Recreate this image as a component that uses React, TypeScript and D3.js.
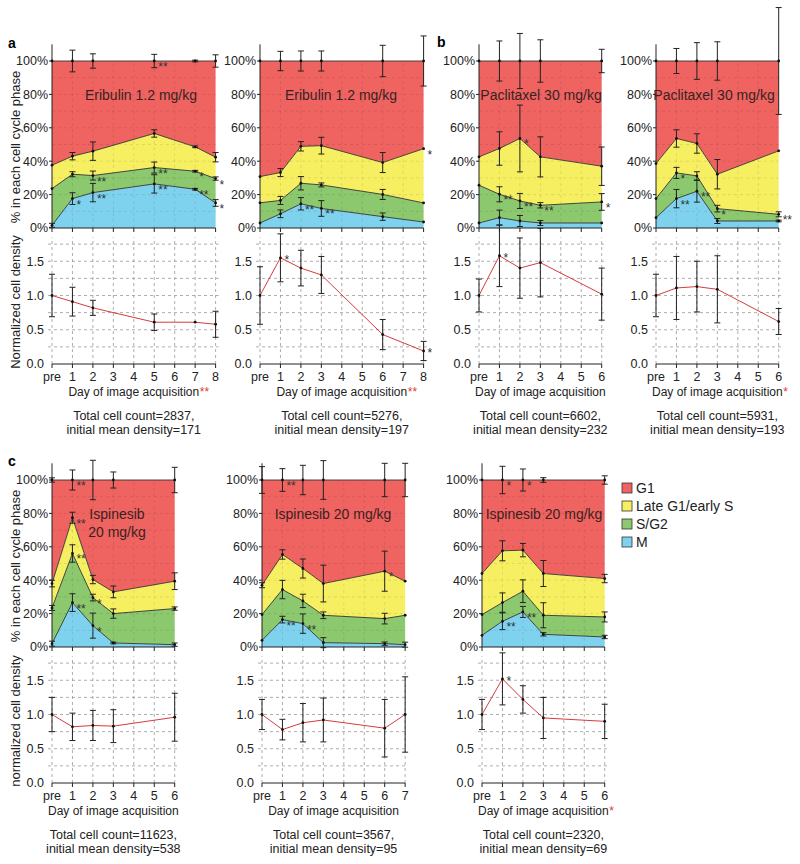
import * as d3 from "d3";

const FONT = "Liberation Sans, Arial, Helvetica, sans-serif";
const RED = "#ef6461";
const YELLOW = "#f7ef62";
const GREEN = "#8cc86e";
const BLUE = "#7fd2ee";
const LINE_RED = "#d63c3c";

const DAY_W = 20.45;
const AREA_H = 167;
const DENS_OFF = 303;
const DENS_UNIT = 68.5;

type Star = [number, string, string];

// ---- a, Eribulin (left) ----
const a1Days = [0, 1, 2, 5, 7, 8];
const a1M = [1.6, 17.6, 21.2, 26.4, 23.2, 15];
const a1Sg2 = [23.6, 32.2, 31.4, 36.2, 34, 29.6];
const a1Late = [37.6, 43, 46, 56.6, 48.6, 42.4];
const a1ETop = [0, 6.5, 4.3, 4, 0.5, 3.7];
const a1ELate = [0, 2.2, 5.5, 2.2, 0.5, 2.8];
const a1ESg2 = [0, 1.5, 2.7, 3.3, 0.5, 1];
const a1EM = [1.2, 3.5, 5.5, 5.5, 0.5, 2];
const a1Stars: Star[] = [[3, "top", "**"], [2, "sg2", "**"], [3, "sg2", "**"], [4, "sg2", "*"], [5, "sg2", "*"],
  [1, "m", "*"], [2, "m", "**"], [3, "m", "**"], [4, "m", "**"], [5, "m", "*"]];
const a1Dens = [1.0, 0.91, 0.82, 0.61, 0.61, 0.58];
const a1DensErr = [0.31, 0.21, 0.11, 0.12, 0.01, 0.19];

// ---- a, Eribulin (right) ----
const a2Days = [0, 1, 2, 3, 6, 8];
const a2M = [3, 8.5, 14.5, 11.7, 6.8, 3.6];
const a2Sg2 = [15.1, 16.5, 26.8, 25.8, 20.1, 15];
const a2Late = [30.8, 33.2, 48.9, 49.3, 39.2, 47.5];
const a2ETop = [0, 5.8, 6, 6, 9.4, 15];
const a2ELate = [0, 2.4, 2.8, 5, 6, 0];
const a2ESg2 = [0, 2.4, 4, 1.2, 3, 0];
const a2EM = [0, 2.3, 3.7, 4.7, 2.2, 0];
const a2Stars: Star[] = [[2, "m", "**"], [3, "m", "**"], [5, "late", "*"]];
const a2Dens = [1.0, 1.55, 1.4, 1.3, 0.43, 0.19];
const a2DensErr = [0.42, 0.35, 0.26, 0.27, 0.22, 0.14];

// ---- b, Paclitaxel (left) ----
const b1Days = [0, 1, 2, 3, 6];
const b1M = [3, 6.2, 4.2, 3, 3];
const b1Sg2 = [25.6, 20.2, 16.2, 13.6, 15.6];
const b1Late = [42.6, 47.6, 53.6, 42.6, 37];
const b1ETop = [0, 12, 16.5, 12.7, 7];
const b1ELate = [0, 10, 20, 12, 11.5];
const b1ESg2 = [0, 4.5, 4.5, 1.6, 5];
const b1EM = [0, 4.5, 3.3, 1.5, 0];
const b1Stars: Star[] = [[2, "late", "*"], [1, "sg2", "**"], [2, "sg2", "**"], [3, "sg2", "**"], [4, "sg2", "*"]];
const b1Dens = [1.0, 1.58, 1.4, 1.48, 1.02];
const b1DensErr = [0.24, 0.45, 0.44, 0.5, 0.38];

// ---- b, Paclitaxel (right) ----
const b2Days = [0, 1, 2, 3, 6];
const b2M = [6.2, 17.6, 22, 4.2, 4.2];
const b2Sg2 = [17.6, 33, 31.2, 11.6, 8.2];
const b2Late = [38.6, 53.6, 50.6, 32.2, 46.2];
const b2ETop = [0, 7.5, 11, 11.5, 32];
const b2ELate = [0, 5.2, 5.8, 8.8, 0];
const b2ESg2 = [0, 3.3, 2.5, 2, 1.5];
const b2EM = [0, 5.5, 6.5, 1.5, 0.5];
const b2Stars: Star[] = [[1, "sg2", "*"], [1, "m", "**"], [2, "m", "**"], [3, "sg2", "*"], [4, "sg2", "**"]];
const b2Dens = [1.0, 1.11, 1.13, 1.09, 0.62];
const b2DensErr = [0.31, 0.46, 0.37, 0.49, 0.19];

// ---- c, Ispinesib ----
const c1Days = [0, 1, 2, 3, 6];
const c1M = [2, 26.6, 12.8, 2.4, 1.4];
const c1Sg2 = [23.4, 56, 29.6, 20, 23];
const c1Late = [38, 77.4, 40.4, 33, 39.4];
const c1ETop = [1.3, 6, 11.8, 4.8, 7.6];
const c1ELate = [2, 3.3, 2.5, 3.5, 5];
const c1ESg2 = [1.5, 5.2, 2, 2.8, 1];
const c1EM = [1.5, 5.3, 7.5, 0.5, 1];
const c1Stars: Star[] = [[1, "top", "**"], [1, "late", "**"], [1, "sg2", "**"], [1, "m", "**"], [2, "sg2", "*"], [2, "m", "*"]];
const c1Dens = [1.0, 0.82, 0.84, 0.83, 0.96];
const c1DensErr = [0.25, 0.2, 0.22, 0.24, 0.35];

const c2Days = [0, 1, 2, 3, 6, 7];
const c2M = [4, 16.4, 14, 2.6, 2, 1.4];
const c2Sg2 = [19.4, 34.4, 27.6, 19, 17, 19];
const c2Late = [37, 55.4, 47, 38, 45.4, 39.4];
const c2ETop = [8, 6.8, 8.8, 11.6, 10, 10];
const c2ELate = [1.5, 2.8, 5.7, 11, 12, 0];
const c2ESg2 = [0, 5.5, 4, 2, 3.2, 0];
const c2EM = [0, 2, 5.8, 3, 1, 1.5];
const c2Stars: Star[] = [[1, "top", "**"], [1, "m", "**"], [2, "m", "**"], [4, "late", "*"]];
const c2Dens = [1.0, 0.78, 0.88, 0.92, 0.8, 1.0];
const c2DensErr = [0.22, 0.15, 0.28, 0.32, 0.42, 0.55];

const c3Days = [0, 1, 2, 3, 6];
const c3M = [7, 15.4, 21, 7.6, 6];
const c3Sg2 = [19.4, 26.6, 33.4, 19, 18];
const c3Late = [44, 57.6, 58, 44, 41];
const c3ETop = [0, 8.2, 6.6, 1.4, 2.5];
const c3ELate = [0, 6, 4, 7.8, 2.5];
const c3ESg2 = [0, 5.8, 6.8, 7.5, 3];
const c3EM = [0, 5, 3.3, 1, 1];
const c3Stars: Star[] = [[1, "top", "*"], [2, "top", "*"], [1, "m", "**"], [2, "m", "**"]];
const c3Dens = [1.0, 1.52, 1.22, 0.95, 0.9];
const c3DensErr = [0.22, 0.38, 0.2, 0.3, 0.25];

const areaTicks = [0, 20, 40, 60, 80, 100];
const densTicks = [0, 0.5, 1.0, 1.5];
const legendLabels = ["G1", "Late G1/early S", "S/G2", "M"];
const legendColors = [RED, YELLOW, GREEN, BLUE];

type PanelDef = {
  x0: number; top: number;
  days: number[]; m: number[]; sg2: number[]; late: number[];
  eTop: number[]; eLate: number[]; eSg2: number[]; eM: number[];
  stars: Star[]; dens: number[]; densErr: number[]; densStars: number[];
  title: string[]; titleX: number; dayStar: string; footer: string[];
  yTitles?: [string, string];
};

function Panel({ p }: { p: PanelDef }) {
  const maxDay = p.days[p.days.length - 1];
  const xEnd = p.x0 + maxDay * DAY_W;
  const x = d3.scaleLinear().domain([0, maxDay]).range([p.x0, xEnd]);
  const y = d3.scaleLinear().domain([0, 100]).range([p.top + AREA_H, p.top]);
  const d0 = p.top + DENS_OFF;
  const yd = d3.scaleLinear().domain([0, 1]).range([d0, d0 - DENS_UNIT]);
  const idx = p.days.map((_, i) => i);
  const allDays = d3.range(0, maxDay + 1);
  const hundred = p.days.map(() => 100);
  const zero = p.days.map(() => 0);
  const levels: Record<string, number[]> = { top: hundred, late: p.late, sg2: p.sg2, m: p.m };
  const errs: Record<string, number[]> = { top: p.eTop, late: p.eLate, sg2: p.eSg2, m: p.eM };

  const band = (lo: number[], hi: number[]) =>
    d3.area<number>().x(i => x(p.days[i])).y0(i => y(lo[i])).y1(i => y(hi[i]))(idx) ?? "";
  const edge = (v: number[]) => d3.line<number>().x(i => x(p.days[i])).y(i => y(v[i]))(idx) ?? "";
  const densLine = d3.line<number>().x(i => x(p.days[i])).y(i => yd(p.dens[i]))(idx) ?? "";
  const midX = (p.x0 + xEnd) / 2;

  return (
    <g>
      {/* stacked areas */}
      <path d={band(p.late, hundred)} fill={RED} />
      <path d={band(p.sg2, p.late)} fill={YELLOW} />
      <path d={band(p.m, p.sg2)} fill={GREEN} />
      <path d={band(zero, p.m)} fill={BLUE} />

      {/* faint grid over the areas */}
      {d3.range(10, 100, 10).map(v => (
        <line key={"h" + v} x1={p.x0} x2={xEnd} y1={y(v)} y2={y(v)} stroke="#000" strokeOpacity={0.12} strokeDasharray="3,3" strokeWidth={0.8} />
      ))}
      {allDays.slice(1, -1).map(dd => (
        <line key={"v" + dd} x1={x(dd)} x2={x(dd)} y1={y(0)} y2={y(100)} stroke="#000" strokeOpacity={0.12} strokeDasharray="3,3" strokeWidth={0.8} />
      ))}

      {["top", "late", "sg2", "m"].map(k => (
        <path key={k} d={edge(levels[k])} fill="none" stroke="#333" strokeWidth={0.9} />
      ))}

      {/* area axes */}
      <line x1={p.x0} x2={p.x0} y1={y(0)} y2={y(110)} stroke="#222" strokeWidth={1} />
      <line x1={p.x0} x2={xEnd} y1={y(0)} y2={y(0)} stroke="#222" strokeWidth={1} />
      {areaTicks.map(t => (
        <g key={t}>
          <line x1={p.x0 - 3} x2={p.x0} y1={y(t)} y2={y(t)} stroke="#222" />
          <text x={p.x0 - 4} y={y(t) + 4.3} textAnchor="end" fontSize={12.5} fill="#222">{t}%</text>
        </g>
      ))}
      {allDays.map(dd => (
        <line key={dd} x1={x(dd)} x2={x(dd)} y1={y(0)} y2={y(0) + 4} stroke="#222" />
      ))}

      {/* error bars and points on each boundary */}
      {["top", "late", "sg2", "m"].map(k =>
        idx.map(i => {
          const cx = x(p.days[i]);
          const v = levels[k][i];
          const e = errs[k][i];
          return (
            <g key={k + i}>
              {e > 0.3 && (
                <g stroke="#222" strokeWidth={1}>
                  <line x1={cx} x2={cx} y1={y(v - e)} y2={y(v + e)} />
                  <line x1={cx - 3} x2={cx + 3} y1={y(v - e)} y2={y(v - e)} />
                  <line x1={cx - 3} x2={cx + 3} y1={y(v + e)} y2={y(v + e)} />
                </g>
              )}
              <circle cx={cx} cy={y(v)} r={1.4} fill="#111" />
            </g>
          );
        })
      )}
      {p.stars.map(([i, k, s], j) => (
        <text key={"s" + j} x={x(p.days[i]) + 4} y={y(levels[k][i]) + 10} fontSize={12} fill="#333">{s}</text>
      ))}

      {/* title */}
      {p.title.map((t, j) => (
        <text key={t} x={p.titleX} y={p.top + 39 + j * 18} textAnchor="middle" fontSize={14} fill="#3a2222">{t}</text>
      ))}

      {/* density grid */}
      {d3.range(0.25, 1.8, 0.25).map(v => (
        <line key={"dg" + v} x1={p.x0 - 4} x2={xEnd + 3} y1={yd(v)} y2={yd(v)} stroke="#999" strokeDasharray="3,3" strokeWidth={0.8} />
      ))}
      {allDays.map(dd => (
        <line key={"dv" + dd} x1={x(dd)} x2={x(dd)} y1={yd(0)} y2={yd(1.85)} stroke="#999" strokeDasharray="3,3" strokeWidth={0.8} />
      ))}
      <line x1={p.x0} x2={xEnd} y1={d0} y2={d0} stroke="#222" />
      {allDays.map(dd => (
        <g key={"dt" + dd}>
          <line x1={x(dd)} x2={x(dd)} y1={d0} y2={d0 + 4} stroke="#222" />
          <text x={x(dd)} y={d0 + 17} textAnchor="middle" fontSize={12.5} fill="#222">{dd === 0 ? "pre" : dd}</text>
        </g>
      ))}
      {densTicks.map(t => (
        <text key={"dy" + t} x={p.x0 - 8} y={yd(t) + 4.3} textAnchor="end" fontSize={12.5} fill="#222">{t.toFixed(1)}</text>
      ))}
      <path d={densLine} fill="none" stroke={LINE_RED} strokeWidth={1} />
      {idx.map(i => {
        const cx = x(p.days[i]);
        const v = p.dens[i];
        const e = p.densErr[i];
        return (
          <g key={"dp" + i}>
            {e > 0.02 && (
              <g stroke="#222" strokeWidth={1}>
                <line x1={cx} x2={cx} y1={yd(v - e)} y2={yd(v + e)} />
                <line x1={cx - 3} x2={cx + 3} y1={yd(v - e)} y2={yd(v - e)} />
                <line x1={cx - 3} x2={cx + 3} y1={yd(v + e)} y2={yd(v + e)} />
              </g>
            )}
            <circle cx={cx} cy={yd(v)} r={1.4} fill="#111" />
          </g>
        );
      })}
      {p.densStars.map(i => (
        <text key={"ds" + i} x={x(p.days[i]) + 4} y={yd(p.dens[i]) + 6} fontSize={12} fill="#333">*</text>
      ))}

      {/* labels below */}
      <text x={midX} y={d0 + 32} textAnchor="middle" fontSize={12} fill="#222">Day of image acquisition</text>
      {p.dayStar && (
        <text x={midX + 66} y={d0 + 32} fontSize={12} fill="#e0393e">{p.dayStar}</text>
      )}
      {p.footer.map((t, j) => (
        <text key={t} x={midX} y={d0 + 56 + j * 14} textAnchor="middle" fontSize={12.5} fill="#222">{t}</text>
      ))}

      {p.yTitles && (
        <g>
          <text transform={`translate(20,${p.top + 86}) rotate(-90)`} textAnchor="middle" fontSize={13} fill="#222">{p.yTitles[0]}</text>
          <text transform={`translate(20,${d0 - 62}) rotate(-90)`} textAnchor="middle" fontSize={13} fill="#222">{p.yTitles[1]}</text>
        </g>
      )}
    </g>
  );
}

const panels: PanelDef[] = [
  { x0: 52, top: 61, days: a1Days, m: a1M, sg2: a1Sg2, late: a1Late, eTop: a1ETop, eLate: a1ELate, eSg2: a1ESg2, eM: a1EM,
    stars: a1Stars, dens: a1Dens, densErr: a1DensErr, densStars: [], title: ["Eribulin 1.2 mg/kg"], titleX: 141,
    dayStar: "**", footer: ["Total cell count=2837,", "initial mean density=171"],
    yTitles: ["% in each cell cycle phase", "Normalized cell density"] },
  { x0: 260, top: 61, days: a2Days, m: a2M, sg2: a2Sg2, late: a2Late, eTop: a2ETop, eLate: a2ELate, eSg2: a2ESg2, eM: a2EM,
    stars: a2Stars, dens: a2Dens, densErr: a2DensErr, densStars: [1, 5], title: ["Eribulin 1.2 mg/kg"], titleX: 341,
    dayStar: "**", footer: ["Total cell count=5276,", "initial mean density=197"] },
  { x0: 479, top: 61, days: b1Days, m: b1M, sg2: b1Sg2, late: b1Late, eTop: b1ETop, eLate: b1ELate, eSg2: b1ESg2, eM: b1EM,
    stars: b1Stars, dens: b1Dens, densErr: b1DensErr, densStars: [1], title: ["Paclitaxel 30 mg/kg"], titleX: 541,
    dayStar: "", footer: ["Total cell count=6602,", "initial mean density=232"] },
  { x0: 656, top: 61, days: b2Days, m: b2M, sg2: b2Sg2, late: b2Late, eTop: b2ETop, eLate: b2ELate, eSg2: b2ESg2, eM: b2EM,
    stars: b2Stars, dens: b2Dens, densErr: b2DensErr, densStars: [], title: ["Paclitaxel 30 mg/kg"], titleX: 714,
    dayStar: "*", footer: ["Total cell count=5931,", "initial mean density=193"] },
  { x0: 52, top: 480, days: c1Days, m: c1M, sg2: c1Sg2, late: c1Late, eTop: c1ETop, eLate: c1ELate, eSg2: c1ESg2, eM: c1EM,
    stars: c1Stars, dens: c1Dens, densErr: c1DensErr, densStars: [], title: ["Ispinesib", "20 mg/kg"], titleX: 117,
    dayStar: "", footer: ["Total cell count=11623,", "initial mean density=538"],
    yTitles: ["% in each cell cycle phase", "normalized cell density"] },
  { x0: 262, top: 480, days: c2Days, m: c2M, sg2: c2Sg2, late: c2Late, eTop: c2ETop, eLate: c2ELate, eSg2: c2ESg2, eM: c2EM,
    stars: c2Stars, dens: c2Dens, densErr: c2DensErr, densStars: [], title: ["Ispinesib 20 mg/kg"], titleX: 333,
    dayStar: "", footer: ["Total cell count=3567,", "initial mean density=95"] },
  { x0: 482, top: 480, days: c3Days, m: c3M, sg2: c3Sg2, late: c3Late, eTop: c3ETop, eLate: c3ELate, eSg2: c3ESg2, eM: c3EM,
    stars: c3Stars, dens: c3Dens, densErr: c3DensErr, densStars: [1], title: ["Ispinesib 20 mg/kg"], titleX: 544,
    dayStar: "*", footer: ["Total cell count=2320,", "initial mean density=69"] },
];

export default function App() {
  return (
    <div style={{ position: "absolute", left: 0, top: 0 }}>
      <svg width={800} height={864} style={{ display: "block", fontFamily: FONT, background: "#fff" }}>
        {panels.map((p, i) => <Panel key={i} p={p} />)}
        <text x={8} y={48} fontSize={14} fontWeight="bold">a</text>
        <text x={437} y={47} fontSize={14} fontWeight="bold">b</text>
        <text x={8} y={466} fontSize={14} fontWeight="bold">c</text>
        {legendLabels.map((l, i) => (
          <g key={l}>
            <rect x={622} y={483 + i * 18} width={10} height={10} fill={legendColors[i]} stroke="#333" strokeWidth={0.8} />
            <text x={636} y={493 + i * 18} fontSize={14} fill="#222">{l}</text>
          </g>
        ))}
      </svg>
    </div>
  );
}
